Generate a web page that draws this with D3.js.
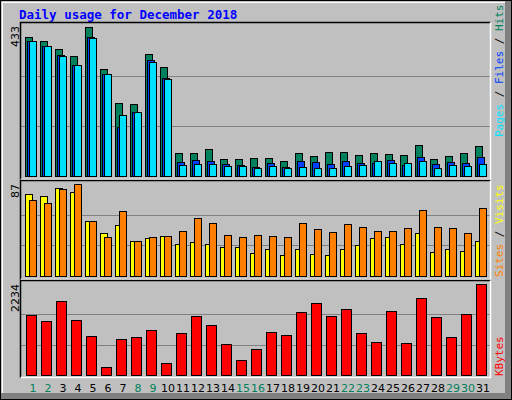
<!DOCTYPE html>
<html><head><meta charset="utf-8">
<script src="https://cdn.jsdelivr.net/npm/d3@7"></script>
<style>body{margin:0;background:#fff}</style></head>
<body><svg id="c" width="512" height="400"></svg>
<script>
const days = d3.range(1,32);
const weekends = [1,2,8,9,15,16,22,23,29,30];
const hits  = [400,389,366,346,430,309,211,208,352,314,67,67,79,50,50,53,53,44,67,59,70,70,61,67,64,61,90,50,59,67,87];
const files = [391,375,349,320,400,294,142,185,334,283,41,47,44,36,33,27,38,27,44,41,36,44,38,38,47,33,56,36,41,38,56];
const pages = [389,375,346,320,397,294,176,185,329,280,33,36,36,30,30,24,30,24,27,24,24,30,33,44,38,38,44,24,33,30,36];
const sites = [78,76,83,79,52,41,48,33,36,38,30,32,30,27,27,22,26,20,26,21,20,26,29,36,37,30,41,23,26,24,33];
const visits= [72,69,82,87,52,37,61,33,37,38,43,55,50,39,37,39,38,37,50,44,42,49,46,43,43,45,62,46,45,41,64];
const kbytes= [1473,1326,1817,1350,957,196,884,933,1105,295,1031,1448,1227,761,368,638,1056,982,1547,1768,1448,1620,1031,810,1571,786,1890,1424,933,1498,2234];
const maxTop=433, maxMid=87, maxBot=2234;

const svg=d3.select("#c");
svg.append("rect").attr("x",0).attr("y",0).attr("width",512).attr("height",400).attr("fill","#c0c0c0");
svg.append("rect").attr("x",505).attr("y",0).attr("width",7).attr("height",400).attr("fill","#808080");
svg.append("rect").attr("x",0).attr("y",393).attr("width",512).attr("height",7).attr("fill","#808080");
svg.append("rect").attr("x",0.5).attr("y",0.5).attr("width",511).attr("height",399).attr("fill","none").attr("stroke","#000");
svg.append("path").attr("d","M2.5,393V2.5H505").attr("fill","none").attr("stroke","#fff");
svg.append("text").attr("x",19).attr("y",19).text("Daily usage for December 2018")
  .attr("font-family","DejaVu Sans Mono").attr("font-weight","bold").attr("font-size",12.5).attr("fill","#0000ff");

const x=d3.scaleLinear().domain([1,31]).range([25,475]);
const panels=[{t:22,b:180,y0:176,y1:26,max:maxTop,lab:"433"},
              {t:180,b:280,y0:276,y1:184,max:maxMid,lab:"87"},
              {t:280,b:378,y0:375,y1:284,max:maxBot,lab:"2234"}];
panels.forEach(p=>{
  p.y=d3.scaleLinear().domain([0,p.max]).range([p.y0,p.y1]);
  svg.append("rect").attr("x",20.5).attr("y",p.t+0.5).attr("width",470).attr("height",p.b-p.t-1).attr("fill","#c0c0c0").attr("stroke","none");
  [1/3,2/3].forEach(f=>{const yy=Math.round(p.y(p.max*f))+0.5;
    svg.append("line").attr("x1",21).attr("x2",490).attr("y1",yy).attr("y2",yy).attr("stroke","#808080");});
  svg.append("path").attr("d",`M20.5,${p.b}V${p.t+0.5}H490.5`).attr("fill","none").attr("stroke","#000").attr("stroke-width",1.5);
  svg.append("path").attr("d",`M20.5,${p.b-0.5}H490.5V${p.t+0.5}`).attr("fill","none").attr("stroke","#fff").attr("stroke-width",1.5);
  svg.append("text").attr("transform",`translate(19,${p.y1}) rotate(-90)`).attr("text-anchor","end")
    .attr("font-family","DejaVu Sans").attr("font-size",11).text(p.lab);
});
function bars(data,p,dx,w,color){
  svg.append("g").selectAll("rect").data(data).join("rect")
   .attr("x",(d,i)=>x(days[i])+dx+0.5).attr("width",w)
   .attr("y",d=>Math.round(p.y(d))+0.5).attr("height",d=>p.y0-Math.round(p.y(d)))
   .attr("fill",color).attr("stroke","#000").attr("stroke-width",1);
}
bars(hits,panels[0],0,7,"#00805c");
bars(files,panels[0],2,7,"#0040ff");
bars(pages,panels[0],4,7,"#00e0ff");
bars(sites,panels[1],0,7,"#ffff00");
bars(visits,panels[1],4,7,"#ff8000");
bars(kbytes,panels[2],1,10,"#ff0000");

svg.append("g").selectAll("text").data(days).join("text")
  .attr("x",d=>x(d)+8).attr("y",392).attr("text-anchor","middle")
  .attr("font-family","DejaVu Sans").attr("font-size",11)
  .attr("fill",d=>weekends.includes(d)?"#00805c":"#000").text(d=>d);

function sideLabel(y,parts){
  const t=svg.append("text").attr("transform",`translate(503,${y}) rotate(-90)`)
   .attr("font-family","DejaVu Sans Mono").attr("font-size",11);
  parts.forEach(([s,c])=>t.append("tspan").attr("fill",c).text(s));
}
sideLabel(137,[["Pages","#00e0ff"],[" / ","#000"],["Files","#0040ff"],[" / ","#000"],["Hits","#00805c"]]);
sideLabel(277,[["Sites","#ff8000"],[" / ","#000"],["Visits","#ffff00"]]);
sideLabel(376,[["KBytes","#ff0000"]]);
</script></body></html>
